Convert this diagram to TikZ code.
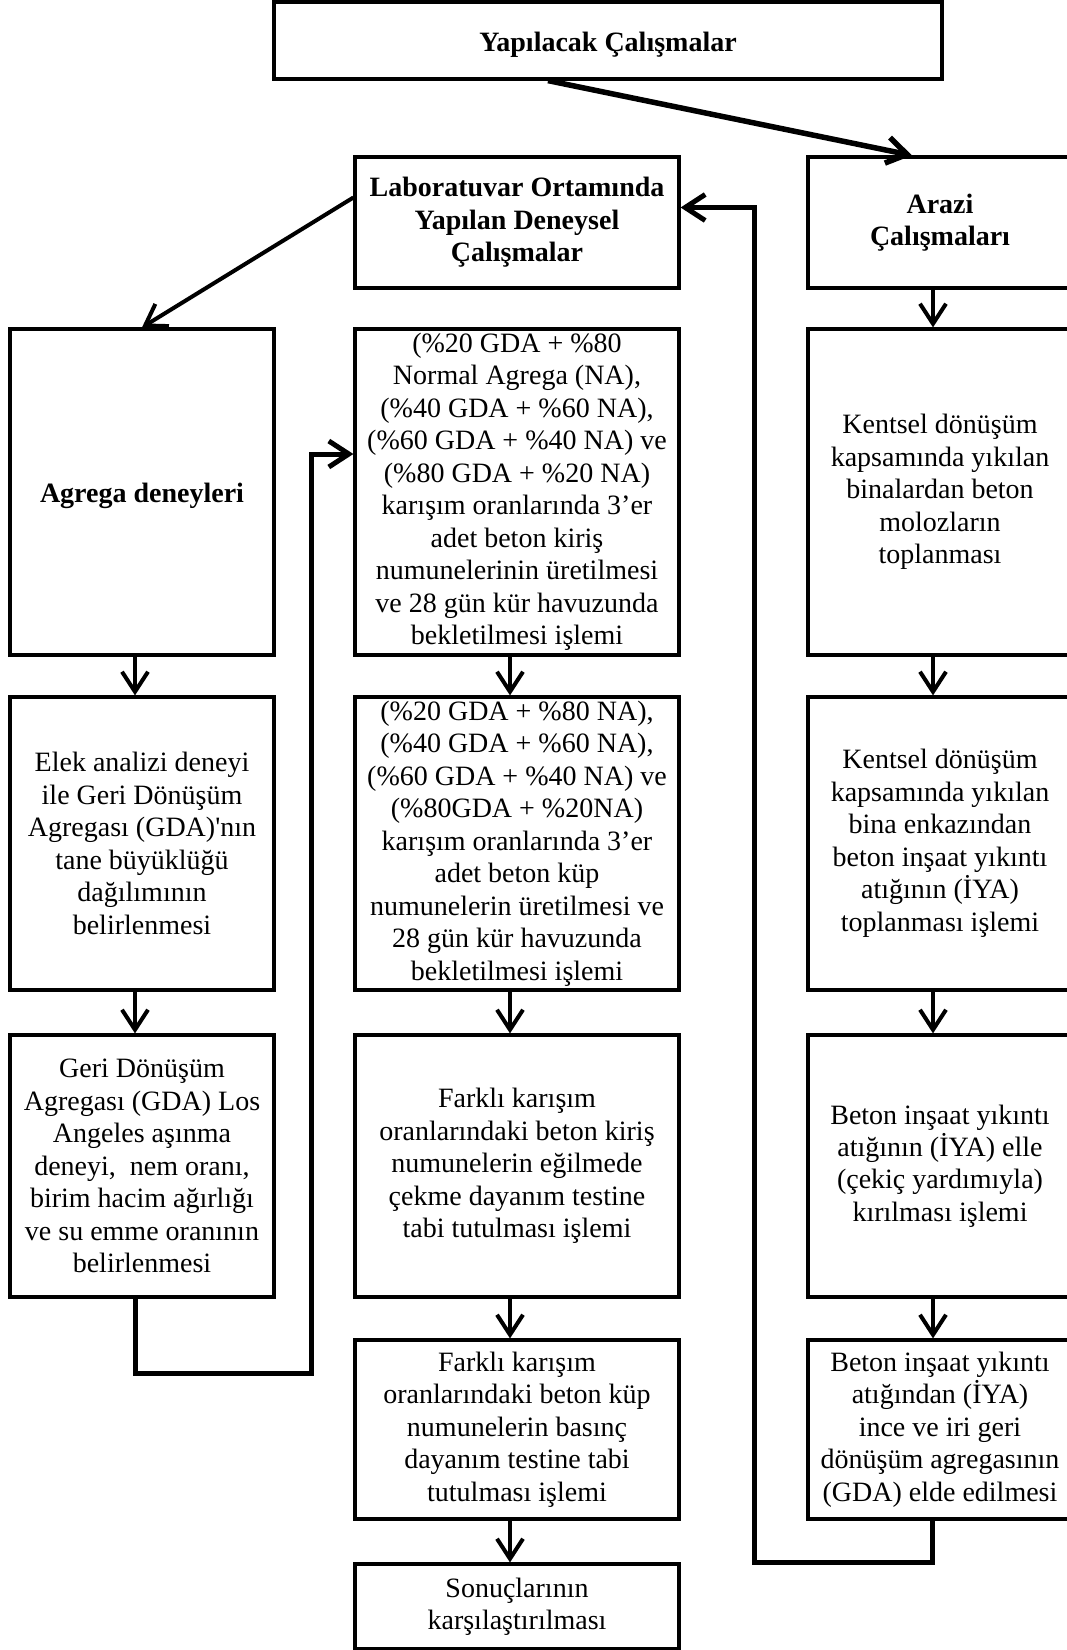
\documentclass[tikz,border=0pt]{standalone}
\usepackage{fontspec}
\setmainfont{Liberation Serif}
\usetikzlibrary{arrows.meta}

\begin{document}
\begin{tikzpicture}[x=1pt,y=-1pt,
    kutu/.style={draw,line width=3.2pt,inner sep=0pt,align=center,font=\fontsize{28}{32.5}\selectfont,
      execute at begin node={\rule{0pt}{27pt}}},
    ok/.style={line width=4pt,-{Straight Barb[length=20pt,width=26pt]}}]
      \useasboundingbox (0,0) rectangle (1067,1650);
      % ust kutular
      \node (ust) at (608,40.5) [kutu,minimum width=668pt,minimum height=77pt] {\textbf{Yapılacak Çalışmalar}};
      \node (lab) at (517,222.5) [kutu,minimum width=324pt,minimum height=131pt] {\textbf{Laboratuvar Ortamında}\\\textbf{Yapılan Deneysel}\\\textbf{Çalışmalar}};
      \node (arazi) at (940,222.5) [kutu,minimum width=264pt,minimum height=131pt] {\textbf{Arazi}\\\textbf{Çalışmaları}};
      \draw [ok,line width=5.5pt]([xshift=-60pt]ust.south)--([xshift=-28pt]arazi.north);
      % sol sutun
      \node (l1) at (142,492) [kutu,minimum width=264pt,minimum height=326pt] {\textbf{Agrega deneyleri}};
      \node (l2) at (142,843.5) [kutu,minimum width=264pt,minimum height=293pt] {Elek analizi deneyi\\ile Geri Dönüşüm\\Agregası (GDA)\textquotesingle nın\\tane büyüklüğü\\dağılımının\\belirlenmesi};
      \node (l3) at (142,1166) [kutu,minimum width=264pt,minimum height=262pt] {Geri Dönüşüm\\Agregası (GDA) Los\\Angeles aşınma\\deneyi,\ \ nem oranı,\\birim hacim ağırlığı\\ve su emme oranının\\belirlenmesi};
      \draw [ok]([yshift=25pt]lab.west)--(l1.north);
      \draw [ok]([xshift=-7pt]l1.south)--([xshift=-7pt]l2.north);
      \draw [ok]([xshift=-7pt]l2.south)--([xshift=-7pt]l3.north);
      % orta sutun
      \node (m1) at (517,492) [kutu,minimum width=324pt,minimum height=326pt] {(\%20 GDA + \%80\\Normal Agrega (NA),\\(\%40 GDA + \%60 NA),\\(\%60 GDA + \%40 NA) ve\\(\%80 GDA + \%20 NA)\\karışım oranlarında 3’er\\adet beton kiriş\\numunelerinin üretilmesi\\ve 28 gün kür havuzunda\\bekletilmesi işlemi};
      \node (m2) at (517,843.5) [kutu,minimum width=324pt,minimum height=293pt] {(\%20 GDA + \%80 NA),\\(\%40 GDA + \%60 NA),\\(\%60 GDA + \%40 NA) ve\\(\%80GDA + \%20NA)\\karışım oranlarında 3’er\\adet beton küp\\numunelerin üretilmesi ve\\28 gün kür havuzunda\\bekletilmesi işlemi};
      \node (m3) at (517,1166) [kutu,minimum width=324pt,minimum height=262pt] {Farklı karışım\\oranlarındaki beton kiriş\\numunelerin eğilmede\\çekme dayanım testine\\tabi tutulması işlemi};
      \node (m4) at (517,1429.5) [kutu,minimum width=324pt,minimum height=179pt] {Farklı karışım\\oranlarındaki beton küp\\numunelerin basınç\\dayanım testine tabi\\tutulması işlemi};
      \node (m5) at (517,1606.5) [kutu,minimum width=324pt,minimum height=85pt] {Sonuçlarının\\karşılaştırılması};
      \coordinate (donus) at (311,1373);
      \draw [ok,line width=5pt]([xshift=-7pt]l3.south)|-(donus)|-([yshift=38pt]m1.west);
      \draw [ok]([xshift=-7pt]m1.south)--([xshift=-7pt]m2.north);
      \draw [ok]([xshift=-7pt]m2.south)--([xshift=-7pt]m3.north);
      \draw [ok]([xshift=-7pt]m3.south)--([xshift=-7pt]m4.north);
      \draw [ok]([xshift=-7pt]m4.south)--([xshift=-7pt]m5.north);
      % sag sutun
      \node (r1) at (940,492) [kutu,minimum width=264pt,minimum height=326pt] {Kentsel dönüşüm\\kapsamında yıkılan\\binalardan beton\\molozların\\toplanması};
      \node (r2) at (940,843.5) [kutu,minimum width=264pt,minimum height=293pt] {Kentsel dönüşüm\\kapsamında yıkılan\\bina enkazından\\beton inşaat yıkıntı\\atığının (İYA)\\toplanması işlemi};
      \node (r3) at (940,1166) [kutu,minimum width=264pt,minimum height=262pt] {Beton inşaat yıkıntı\\atığının (İYA) elle\\(çekiç yardımıyla)\\kırılması işlemi};
      \node (r4) at (940,1429.5) [kutu,minimum width=264pt,minimum height=179pt] {Beton inşaat yıkıntı\\atığından (İYA)\\ince ve iri geri\\dönüşüm agregasının\\(GDA) elde edilmesi};
      \draw [ok]([xshift=-7pt]arazi.south)--([xshift=-7pt]r1.north);
      \draw [ok]([xshift=-7pt]r1.south)--([xshift=-7pt]r2.north);
      \draw [ok]([xshift=-7pt]r2.south)--([xshift=-7pt]r3.north);
      \draw [ok]([xshift=-7pt]r3.south)--([xshift=-7pt]r4.north);
      \coordinate (geri) at (754,1562);
      \draw [ok,line width=5pt]([xshift=-8pt]r4.south)|-(geri)|-([yshift=15pt]lab.east);
    \end{tikzpicture}
\end{document}
